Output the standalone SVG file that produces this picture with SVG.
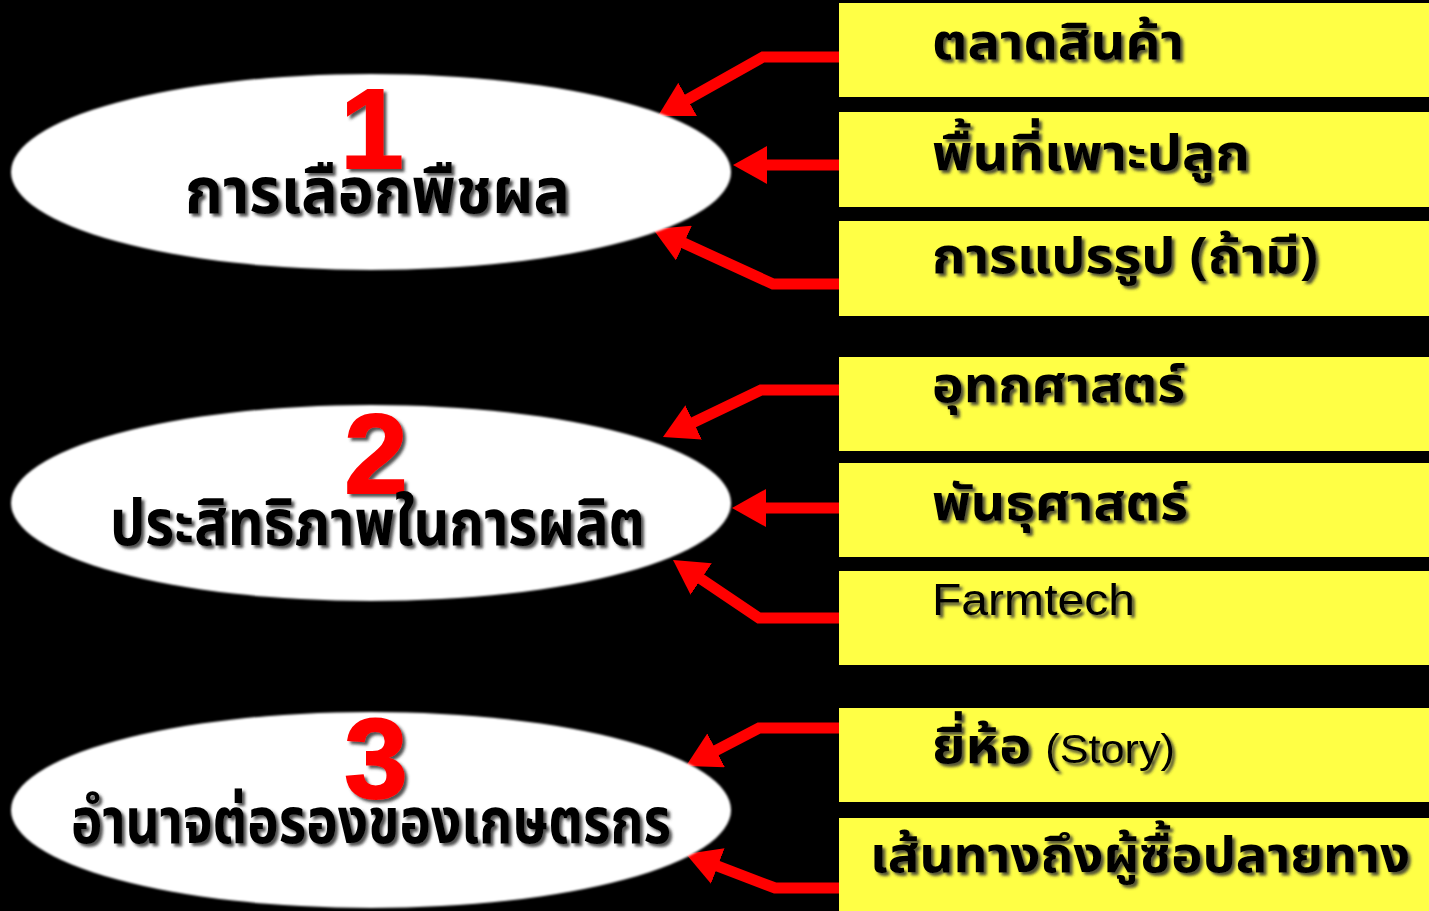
<svg xmlns="http://www.w3.org/2000/svg" width="1429" height="911" viewBox="0 0 1429 911">
<defs>
<style>
.bg{fill:#000}
.ell{fill:#fff}
.box{fill:#FFFF45}
.num{font-family:"Liberation Sans",Arial,sans-serif;font-weight:bold;font-size:114px;fill:#FF0000;stroke:#FF0000;stroke-width:2;text-anchor:middle}
.th{font-family:"Noto Sans Thai","Noto Sans","DejaVu Sans",sans-serif;font-weight:bold;fill:#000}
.big{font-size:64px}
.lbl{font-size:50px}
.lat{font-family:"Liberation Sans",Arial,sans-serif;font-weight:normal;font-size:44px;fill:#000}
.arr{fill:none;stroke:#FF0000;stroke-width:11;stroke-linejoin:miter}
</style>
<filter id="sh" x="-10%" y="-30%" width="120%" height="160%">
<feDropShadow dx="3" dy="3" stdDeviation="1.5" flood-color="#333" flood-opacity="0.85"/>
</filter>
<filter id="soft" x="-5%" y="-10%" width="110%" height="120%">
<feGaussianBlur stdDeviation="0.8"/>
</filter>
<marker id="ah" markerUnits="userSpaceOnUse" viewBox="0 0 34 38" markerWidth="34" markerHeight="38" refX="14" refY="19" orient="auto">
<path d="M0,0 L34,19 L0,38 z" fill="#FF0000"/>
</marker>
</defs>
<rect class="bg" x="0" y="0" width="1429" height="911"/>

<g id="connectors">
<polyline class="arr" points="839,57 763,57 675.4,106.2" marker-end="url(#ah)"/>
<polyline class="arr" points="839,165 753,165" marker-end="url(#ah)"/>
<polyline class="arr" points="839,284 773,284 671.2,237.3" marker-end="url(#ah)"/>
<polyline class="arr" points="839,390 761,390 681,428.4" marker-end="url(#ah)"/>
<polyline class="arr" points="839,508 752,508" marker-end="url(#ah)"/>
<polyline class="arr" points="839,618 759,618 689.6,571.2" marker-end="url(#ah)"/>
<polyline class="arr" points="839,728 759,728 703.7,756.8" marker-end="url(#ah)"/>
<polyline class="arr" points="839,888 775,888 704.7,861.1" marker-end="url(#ah)"/>
</g>

<g id="node1">
<ellipse class="ell" cx="371" cy="172" rx="360" ry="98" filter="url(#soft)"/>
<text class="num" x="372" y="168" filter="url(#sh)">1</text>
<text class="th big" x="185" y="213" textLength="385" lengthAdjust="spacingAndGlyphs" filter="url(#sh)">การเลือกพืชผล</text>
</g>
<g id="node2">
<ellipse class="ell" cx="371" cy="503" rx="360" ry="98" filter="url(#soft)"/>
<text class="num" x="376" y="493" filter="url(#sh)">2</text>
<text class="th big" x="110" y="545" textLength="535" lengthAdjust="spacingAndGlyphs" filter="url(#sh)">ประสิทธิภาพในการผลิต</text>
</g>
<g id="node3">
<ellipse class="ell" cx="371" cy="810" rx="360" ry="98" filter="url(#soft)"/>
<text class="num" x="376" y="798" filter="url(#sh)">3</text>
<text class="th big" x="71" y="843" textLength="600" lengthAdjust="spacingAndGlyphs" filter="url(#sh)">อำนาจต่อรองของเกษตรกร</text>
</g>

<g id="box1">
<rect class="box" x="839" y="3" width="590" height="94"/>
<text class="th lbl" x="932" y="59" textLength="252" lengthAdjust="spacingAndGlyphs" filter="url(#sh)">ตลาดสินค้า</text>
</g>
<g id="box2">
<rect class="box" x="839" y="112" width="590" height="95"/>
<text class="th lbl" x="932" y="170" textLength="318" lengthAdjust="spacingAndGlyphs" filter="url(#sh)">พื้นที่เพาะปลูก</text>
</g>
<g id="box3">
<rect class="box" x="839" y="221" width="590" height="95"/>
<text class="th lbl" x="932" y="273" textLength="386" lengthAdjust="spacingAndGlyphs" filter="url(#sh)">การแปรรูป (ถ้ามี)</text>
</g>
<g id="box4">
<rect class="box" x="839" y="357" width="590" height="94"/>
<text class="th lbl" x="932" y="402" textLength="253" lengthAdjust="spacingAndGlyphs" filter="url(#sh)">อุทกศาสตร์</text>
</g>
<g id="box5">
<rect class="box" x="839" y="463" width="590" height="94"/>
<text class="th lbl" x="932" y="520" textLength="256" lengthAdjust="spacingAndGlyphs" filter="url(#sh)">พันธุศาสตร์</text>
</g>
<g id="box6">
<rect class="box" x="839" y="571" width="590" height="94"/>
<text class="lat" x="932" y="615" textLength="203" lengthAdjust="spacingAndGlyphs" filter="url(#sh)">Farmtech</text>
</g>
<g id="box7">
<rect class="box" x="839" y="708" width="590" height="94"/>
<text class="th lbl" x="932" y="763" textLength="243" lengthAdjust="spacingAndGlyphs" filter="url(#sh)">ยี่ห้อ <tspan class="lat" style="font-size:40px">(Story)</tspan></text>
</g>
<g id="box8">
<rect class="box" x="839" y="818" width="590" height="93"/>
<text class="th lbl" x="870" y="872" textLength="540" lengthAdjust="spacingAndGlyphs" filter="url(#sh)">เส้นทางถึงผู้ซื้อปลายทาง</text>
</g>
</svg>
